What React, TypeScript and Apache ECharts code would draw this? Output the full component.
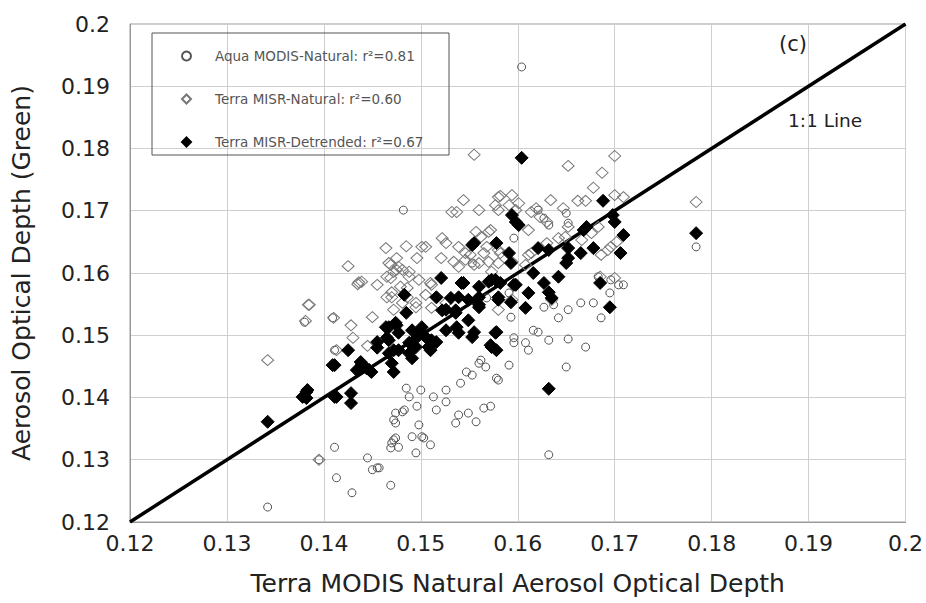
import React, { useEffect, useRef } from "react";
import * as echarts from "echarts";

const xTicks = [0.12, 0.13, 0.14, 0.15, 0.16, 0.17, 0.18, 0.19, 0.2];
const oneToOne = [[0.12, 0.12], [0.2, 0.2]];

const aquaNatural: number[][] = [
  [0.1342,0.1224],[0.1395,0.1300],[0.1411,0.1320],[0.1413,0.1271],[0.1429,0.1247],[0.1445,0.1303],[0.1450,0.1284],[0.1455,0.1287],
  [0.1469,0.1259],[0.1469,0.1319],[0.1470,0.1327],[0.1474,0.1335],[0.1477,0.1320],[0.1472,0.1364],[0.1474,0.1375],[0.1481,0.1377],
  [0.1474,0.1359],[0.1483,0.1380],[0.1485,0.1415],[0.1488,0.1401],[0.1491,0.1337],[0.1495,0.1311],[0.1496,0.1386],[0.1498,0.1356],
  [0.1500,0.1412],[0.1501,0.1337],[0.1503,0.1335],[0.1510,0.1324],[0.1513,0.1401],[0.1516,0.1380],[0.1526,0.1412],[0.1526,0.1393],
  [0.1536,0.1359],[0.1539,0.1372],[0.1541,0.1423],[0.1547,0.1441],[0.1549,0.1375],[0.1553,0.1436],[0.1557,0.1361],[0.1560,0.1455],
  [0.1562,0.1460],[0.1565,0.1383],[0.1567,0.1449],[0.1572,0.1386],[0.1578,0.1431],[0.1580,0.1428],[0.1578,0.1476],[0.1591,0.1452],
  [0.1593,0.1529],[0.1596,0.1496],[0.1596,0.1488],[0.1608,0.1488],[0.1611,0.1476],[0.1616,0.1508],[0.1621,0.1505],[0.1627,0.1545],
  [0.1632,0.1492],[0.1642,0.1528],[0.1650,0.1449],[0.1652,0.1541],[0.1652,0.1494],[0.1665,0.1552],[0.1670,0.1481],[0.1678,0.1552],
  [0.1686,0.1528],[0.1696,0.1589],[0.1704,0.1581],[0.1709,0.1581],[0.1632,0.1308],[0.1784,0.1642],[0.1604,0.1931],[0.1482,0.1701],
  [0.1380,0.1521],[0.1409,0.1528],[0.1411,0.1476],[0.1650,0.1696],[0.1652,0.1680],[0.1621,0.1701],[0.1627,0.1688],[0.1632,0.1677],
  [0.1596,0.1656],[0.1683,0.1594],[0.1695,0.1568],[0.1637,0.1549],[0.1457,0.1287],[0.1472,0.1332],[0.1549,0.1557],[0.1568,0.1560],
  [0.1591,0.1568],[0.1553,0.1616]
];

const misrNatural: number[][] = [
  [0.1342,0.1460],[0.1384,0.1549],[0.1381,0.1523],[0.1410,0.1528],[0.1428,0.1516],[0.1450,0.1529],[0.1430,0.1496],[0.1445,0.1483],
  [0.1413,0.1476],[0.1425,0.1611],[0.1435,0.1582],[0.1439,0.1586],[0.1455,0.1581],[0.1464,0.1640],[0.1467,0.1616],[0.1465,0.1594],
  [0.1465,0.1561],[0.1555,0.1790],[0.1544,0.1717],[0.1532,0.1698],[0.1580,0.1722],[0.1580,0.1701],[0.1485,0.1643],[0.1505,0.1642],
  [0.1496,0.1624],[0.1521,0.1624],[0.1522,0.1656],[0.1526,0.1648],[0.1539,0.1642],[0.1557,0.1666],[0.1572,0.1669],[0.1562,0.1658],
  [0.1436,0.1585],[0.1477,0.1610],[0.1472,0.1602],[0.1481,0.1605],[0.1488,0.1594],[0.1486,0.1576],[0.1498,0.1589],[0.1510,0.1584],
  [0.1505,0.1565],[0.1495,0.1552],[0.1470,0.1561],[0.1481,0.1552],[0.1539,0.1610],[0.1546,0.1621],[0.1551,0.1629],[0.1560,0.1616],
  [0.1565,0.1632],[0.1568,0.1642],[0.1580,0.1637],[0.1555,0.1613],[0.1385,0.1549],[0.1652,0.1772],[0.1700,0.1788],[0.1687,0.1761],
  [0.1678,0.1737],[0.1700,0.1725],[0.1709,0.1722],[0.1670,0.1716],[0.1662,0.1716],[0.1634,0.1717],[0.1594,0.1725],[0.1582,0.1724],
  [0.1591,0.1709],[0.1601,0.1712],[0.1619,0.1704],[0.1784,0.1714],[0.1642,0.1656],[0.1696,0.1642],[0.1702,0.1650],[0.1686,0.1629],
  [0.1611,0.1629],[0.1582,0.1632],[0.1700,0.1592],[0.1501,0.1642],[0.1570,0.1666],[0.1534,0.1618],[0.1475,0.1624],[0.1469,0.1613],
  [0.1475,0.1605],[0.1488,0.1602],[0.1511,0.1581],[0.1469,0.1592],[0.1479,0.1578],[0.1470,0.1569],[0.1486,0.1561],[0.1517,0.1561],
  [0.1511,0.1544],[0.1526,0.1552],[0.1495,0.1545],[0.1472,0.1541],[0.1546,0.1632],[0.1570,0.1618],[0.1580,0.1616],[0.1594,0.1618],
  [0.1608,0.1613],[0.1614,0.1632],[0.1630,0.1648],[0.1649,0.1658],[0.1666,0.1653],[0.1676,0.1664],[0.1683,0.1674],[0.1693,0.1637],
  [0.1685,0.1594],[0.1573,0.1602],[0.1611,0.1669],[0.1623,0.1690],[0.1630,0.1682],[0.1647,0.1704],[0.1652,0.1674],[0.1598,0.1701],
  [0.1577,0.1709],[0.1560,0.1701],[0.1614,0.1698],[0.1537,0.1698],[0.1635,0.1557],[0.1594,0.1557],[0.1580,0.1541],[0.1395,0.1300]
];

const misrDetrended: number[][] = [
  [0.1604,0.1785],[0.1688,0.1716],[0.1594,0.1693],[0.1598,0.1682],[0.1601,0.1677],[0.1698,0.1693],[0.1700,0.1682],[0.1709,0.1661],
  [0.1671,0.1674],[0.1668,0.1669],[0.1784,0.1664],[0.1621,0.1640],[0.1632,0.1637],[0.1652,0.1640],[0.1665,0.1632],[0.1678,0.1640],
  [0.1706,0.1632],[0.1652,0.1624],[0.1650,0.1616],[0.1591,0.1632],[0.1593,0.1616],[0.1616,0.1600],[0.1642,0.1594],[0.1627,0.1584],
  [0.1632,0.1569],[0.1635,0.1560],[0.1596,0.1581],[0.1611,0.1568],[0.1685,0.1584],[0.1593,0.1553],[0.1580,0.1561],[0.1695,0.1545],
  [0.1555,0.1648],[0.1578,0.1648],[0.1553,0.1645],[0.1521,0.1592],[0.1544,0.1584],[0.1570,0.1586],[0.1577,0.1589],[0.1598,0.1581],
  [0.1542,0.1584],[0.1560,0.1578],[0.1573,0.1589],[0.1582,0.1584],[0.1483,0.1565],[0.1516,0.1561],[0.1531,0.1560],[0.1539,0.1561],
  [0.1549,0.1557],[0.1560,0.1561],[0.1560,0.1545],[0.1580,0.1557],[0.1608,0.1544],[0.1536,0.1540],[0.1522,0.1540],[0.1464,0.1513],
  [0.1475,0.1516],[0.1491,0.1508],[0.1501,0.1505],[0.1511,0.1492],[0.1537,0.1513],[0.1555,0.1505],[0.1577,0.1504],[0.1573,0.1481],
  [0.1467,0.1492],[0.1472,0.1476],[0.1495,0.1481],[0.1508,0.1481],[0.1470,0.1455],[0.1491,0.1463],[0.1485,0.1536],[0.1467,0.1513],
  [0.1474,0.1520],[0.1477,0.1504],[0.1455,0.1489],[0.1465,0.1496],[0.1501,0.1513],[0.1505,0.1497],[0.1516,0.1489],[0.1488,0.1488],
  [0.1477,0.1476],[0.1467,0.1471],[0.1472,0.1441],[0.1488,0.1471],[0.1526,0.1541],[0.1536,0.1536],[0.1549,0.1524],[0.1560,0.1549],
  [0.1526,0.1508],[0.1539,0.1504],[0.1553,0.1497],[0.1578,0.1505],[0.1572,0.1484],[0.1578,0.1476],[0.1425,0.1476],[0.1409,0.1452],
  [0.1438,0.1457],[0.1444,0.1447],[0.1449,0.1441],[0.1434,0.1444],[0.1383,0.1412],[0.1378,0.1401],[0.1411,0.1401],[0.1428,0.1407],
  [0.1428,0.1391],[0.1342,0.1361],[0.1382,0.1409],[0.1382,0.1399],[0.1411,0.1452],[0.1413,0.1401],[0.1439,0.1452],[0.1447,0.1444],
  [0.1632,0.1414],[0.1455,0.1480],[0.1510,0.1476],[0.1495,0.1495]
];

const seriesNames = [
  "Aqua MODIS-Natural: r²=0.81",
  "Terra MISR-Natural: r²=0.60",
  "Terra MISR-Detrended: r²=0.67",
];

const fmt = (v: number) => String(Number(v.toFixed(2)));

export default function App() {
  const ref = useRef<HTMLDivElement>(null);
  useEffect(() => {
    document.body.style.margin = "0";
    const chart = echarts.init(ref.current!, null, { renderer: "svg" });
    const font = "'DejaVu Sans', sans-serif";
    chart.setOption({
      animation: false,
      backgroundColor: "#fff",
      textStyle: { fontFamily: font },
      grid: { left: 130, right: 18, top: 24, bottom: 81, show: true, borderColor: "#9a9a9a", borderWidth: 1 },
      xAxis: {
        type: "value", min: 0.12, max: 0.2, interval: 0.01,
        name: "Terra MODIS Natural Aerosol Optical Depth", nameLocation: "middle", nameGap: 49,
        nameTextStyle: { fontSize: 25, color: "#222", fontFamily: font },
        axisLine: { lineStyle: { color: "#9a9a9a" } },
        axisTick: { show: false },
        axisLabel: { fontSize: 22, color: "#222", margin: 10, formatter: fmt },
        splitLine: { lineStyle: { color: "#cfcfcf", width: 1 } },
      },
      yAxis: {
        type: "value", min: 0.12, max: 0.2, interval: 0.01,
        name: "Aerosol Optical Depth (Green)", nameLocation: "middle", nameGap: 96,
        nameTextStyle: { fontSize: 25, color: "#222", fontFamily: font },
        axisLine: { show: true, lineStyle: { color: "#9a9a9a" } },
        axisTick: { show: false },
        axisLabel: { fontSize: 22, color: "#222", margin: 20, formatter: fmt },
        splitLine: { lineStyle: { color: "#cfcfcf", width: 1 } },
      },
      legend: {
        orient: "vertical", left: 176, top: 44, itemGap: 29, itemWidth: 9, itemHeight: 9,
        data: seriesNames,
        textStyle: { fontSize: 13.5, lineHeight: 14, color: "#555", padding: [0, 0, 0, 19], fontFamily: font },
      },
      graphic: [
        { type: "rect", shape: { x: 152, y: 33, width: 297, height: 122 }, style: { fill: "none", stroke: "#555", lineWidth: 1 }, z: 5 },
        { type: "text", x: 779, y: 33, style: { text: "(c)", fontSize: 21, fill: "#222", fontFamily: font } },
        { type: "text", x: 788, y: 111, style: { text: "1:1 Line", fontSize: 18.5, fill: "#222", fontFamily: font } },
      ],
      series: [
        {
          name: seriesNames[0], type: "scatter", data: aquaNatural, symbol: "circle", symbolSize: 8,
          itemStyle: { color: "rgba(255,255,255,0)", borderColor: "#555", borderWidth: 1, opacity: 1 },
        },
        {
          name: seriesNames[1], type: "scatter", data: misrNatural, symbol: "diamond", symbolSize: [12, 11],
          itemStyle: { color: "rgba(255,255,255,0)", borderColor: "#777", borderWidth: 1, opacity: 1 },
        },
        {
          name: seriesNames[2], type: "scatter", data: misrDetrended, symbol: "diamond", symbolSize: [13, 13],
          itemStyle: { color: "#000", borderColor: "#000", borderWidth: 1, opacity: 1 },
        },
        {
          name: "1:1", type: "line", data: oneToOne, symbol: "none", silent: true,
          lineStyle: { color: "#000", width: 3.5 }, z: 1,
        },
      ],
    });
    return () => chart.dispose();
  }, []);
  return <div ref={ref} style={{ width: 926, height: 603 }} />;
}
